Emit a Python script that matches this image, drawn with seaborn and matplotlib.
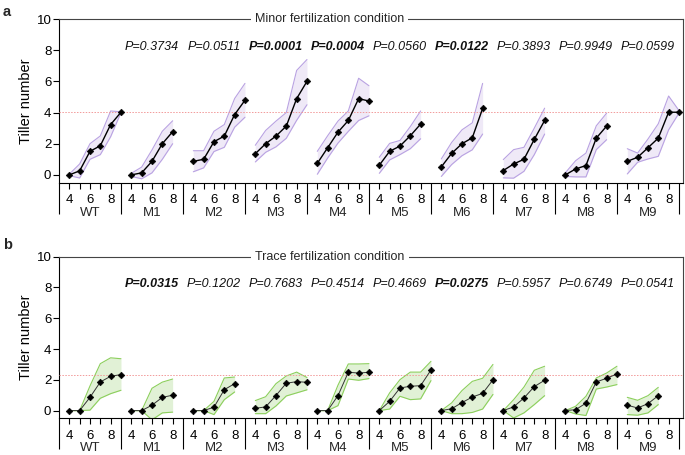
import numpy as np
import pandas as pd
import matplotlib
matplotlib.use('Agg')
import matplotlib.pyplot as plt
import seaborn as sns

# --- data ---
groups = ['WT', 'M1', 'M2', 'M3', 'M4', 'M5', 'M6', 'M7', 'M8', 'M9']
first_day = 4

# panel a: minor fertilization
minor_mean = [
    [0, 0.26, 1.51, 1.87, 3.23, 4.02],
    [0, 0.13, 0.87, 2.0, 2.77],
    [0.87, 1.0, 2.13, 2.49, 3.87, 4.79],
    [1.36, 2.0, 2.49, 3.13, 4.89, 6.0],
    [0.74, 1.74, 2.74, 3.49, 4.89, 4.74],
    [0.62, 1.51, 1.85, 2.51, 3.26],
    [0.51, 1.38, 2.0, 2.38, 4.26],
    [0.28, 0.7, 1.0, 2.28, 3.49],
    [0, 0.38, 0.6, 2.36, 3.13],
    [0.87, 1.13, 1.74, 2.36, 4.02, 4.02],
]
minor_high = [
    [0.05, 0.7, 2.0, 2.5, 4.1, 4.05],
    [0.1, 0.5, 1.6, 2.8, 3.47],
    [1.55, 1.55, 2.8, 3.23, 4.9, 5.87],
    [1.9, 2.85, 3.45, 4.0, 6.7, 7.4],
    [1.51, 2.51, 3.45, 4.1, 6.2, 5.72],
    [1.13, 2.02, 2.21, 3.1, 4.1],
    [1.02, 2.08, 2.89, 3.34, 5.87],
    [0.98, 1.62, 1.77, 3.0, 4.28],
    [0.13, 0.91, 1.4, 3.15, 3.96],
    [1.68, 1.4, 2.3, 3.28, 5.06, 4.13],
]
minor_low = [
    [-0.05, -0.2, 1.0, 1.3, 2.45, 4.0],
    [-0.1, -0.25, 0.13, 1.0, 2.0],
    [0.2, 0.45, 1.5, 1.77, 3.06, 3.7],
    [0.83, 1.45, 1.8, 2.35, 3.5, 4.5],
    [0.04, 1.08, 2.04, 2.79, 3.49, 3.79],
    [0.1, 0.96, 1.3, 1.68, 2.32],
    [-0.1, 0.66, 1.23, 1.61, 2.62],
    [-0.19, -0.21, 0.23, 1.3, 2.62],
    [-0.1, -0.13, -0.13, 1.62, 2.26],
    [0.06, 0.81, 1.02, 1.19, 2.89, 3.96],
]
minor_p = ['', 'P=0.3734', 'P=0.0511', 'P=0.0001', 'P=0.0004', 'P=0.0560',
           'P=0.0122', 'P=0.3893', 'P=0.9949', 'P=0.0599']
minor_bold = [False, False, False, True, True, False, True, False, False, False]

# panel b: trace fertilization
trace_mean = [
    [0, 0, 0.86, 1.86, 2.23, 2.34],
    [0, 0, 0.35, 0.86, 1.0],
    [0, 0, 0.22, 1.36, 1.75],
    [0.15, 0.24, 0.98, 1.78, 1.88, 1.84],
    [0, 0, 0.97, 2.49, 2.44, 2.49],
    [0, 0.6, 1.47, 1.58, 1.62, 2.64],
    [0, 0.12, 0.52, 0.88, 1.12, 2.0],
    [0, 0.24, 0.82, 1.56, 1.97],
    [0, 0.06, 0.48, 1.86, 2.1, 2.38],
    [0.35, 0.17, 0.45, 0.97],
]
trace_high = [
    [0, 0, 1.6, 3.05, 3.43, 3.37],
    [0, 0, 1.45, 1.85, 2.05],
    [0, 0, 0.6, 2.12, 2.18],
    [0.65, 0.9, 1.75, 2.25, 2.5, 2.15],
    [0, 0, 1.65, 3.03, 3.03, 3.05],
    [0, 1.15, 2.01, 2.5, 2.5, 3.2],
    [0, 0.5, 1.3, 1.9, 2.1, 3.0],
    [0, 0.71, 1.53, 2.62, 2.88],
    [0, 0.28, 0.93, 2.12, 2.44, 2.88],
    [0.86, 0.67, 0.97, 1.51],
]
trace_low = [
    [0, 0, 0.03, 0.8, 1.1, 1.32],
    [0, 0, -0.6, -0.15, -0.1],
    [0, 0, -0.26, 0.71, 1.21],
    [-0.2, -0.2, 0.3, 0.95, 1.15, 1.35],
    [0, 0, 0.32, 2.05, 1.97, 2.08],
    [0, 0.1, 0.93, 0.71, 0.76, 1.95],
    [0, -0.2, -0.2, -0.12, 0.1, 1.05],
    [0, -0.48, -0.15, 0.39, 0.97],
    [0, -0.22, -0.32, 1.4, 1.53, 1.69],
    [-0.26, -0.3, -0.15, 0.39],
]
trace_p = ['', 'P=0.0315', 'P=0.1202', 'P=0.7683', 'P=0.4514', 'P=0.4669',
           'P=0.0275', 'P=0.5957', 'P=0.6749', 'P=0.0541']
trace_bold = [False, True, False, False, False, False, True, False, False, False]

tick_days = [4, 5, 6, 7, 8]
labelled_days = [4, 6, 8]
group_span = 6  # days 3..9 per group block


def long_table(means, lows, highs):
    rows = []
    for i, g in enumerate(groups):
        for k, (m, lo, hi) in enumerate(zip(means[i], lows[i], highs[i])):
            day = first_day + k
            rows.append({'group': g, 'day': day, 'pos': group_span * i + day,
                         'tillers': m, 'low': lo, 'high': hi})
    return pd.DataFrame(rows)


sns.set_style('ticks')
plt.rcParams['font.family'] = ['Liberation Sans', 'DejaVu Sans']

fig = plt.figure(figsize=(6.85, 4.55), dpi=100)
ax_a = fig.add_axes([0.0861, 0.5985, 0.9114, 0.3597])
ax_b = fig.add_axes([0.0861, 0.0807, 0.9114, 0.3551])


def draw_panel(ax, df, fill_col, edge_col, line_col, line_w, pvals, bold, title):
    for g, d in df.groupby('group', sort=False):
        ax.fill_between(d['pos'], d['low'], d['high'], color=fill_col, lw=0, zorder=1)
        ax.plot(d['pos'], d['high'], color=edge_col, lw=0.8, zorder=2)
        ax.plot(d['pos'], d['low'], color=edge_col, lw=0.8, zorder=2)
    sns.lineplot(data=df, x='pos', y='tillers', units='group', estimator=None,
                 color=line_col, lw=line_w, marker='D', markersize=3.4,
                 markerfacecolor='black', markeredgecolor='black', mew=0.4,
                 ax=ax, zorder=4, legend=False)
    # reference line at the WT end value
    wt_end = df[df['group'] == 'WT']['tillers'].iloc[-1]
    ax.axhline(wt_end, color='#f29a9a', lw=0.7, ls=(0, (1.5, 1.5)), zorder=3)

    ax.set_xlim(3, 63.42)
    ax.set_ylim(-0.5, 10)
    ax.set_yticks([0, 2, 4, 6, 8, 10])
    ticks, labels = [], []
    for i in range(len(groups)):
        for d in tick_days:
            ticks.append(group_span * i + d)
            labels.append(str(d) if d in labelled_days else '')
    ax.set_xticks(ticks, labels)
    seps = [group_span * i + 3 for i in range(len(groups) + 1)]
    ax.set_xticks(seps, minor=True)
    ax.tick_params(axis='both', which='major', direction='out', length=4, width=0.8,
                   labelsize=9.5, color='black', labelcolor='black')
    ax.tick_params(axis='y', pad=1.5)
    ax.tick_params(axis='x', which='major', pad=4.5)
    ax.tick_params(axis='x', which='minor', direction='out', length=22, width=0.8,
                   color='black')
    ax.set_xlabel('')
    ax.set_ylabel('Tiller number', fontsize=10.5, color='black')
    ax.yaxis.set_label_coords(-0.042, 0.5)

    for s in ['left', 'bottom']:
        ax.spines[s].set_color('black')
        ax.spines[s].set_linewidth(0.8)
    for s in ['top', 'right']:
        ax.spines[s].set_color('#444444')
        ax.spines[s].set_linewidth(0.8)

    for i, g in enumerate(groups):
        ax.annotate(g, xy=(group_span * i + 6, 0), xycoords=ax.get_xaxis_transform(),
                    xytext=(0, -21.5), textcoords='offset points', ha='center',
                    va='center', fontsize=9.5, annotation_clip=False)
        if pvals[i]:
            ax.text(group_span * i + 6, 8.2, pvals[i], ha='center', va='center',
                    fontsize=9, style='italic',
                    fontweight='bold' if bold[i] else 'normal', color='#111111')

    ax.text(29.2, 1.0, title, transform=ax.get_xaxis_transform(), ha='center',
            va='center', fontsize=9, zorder=10, clip_on=False,
            bbox=dict(fc='white', ec='none', pad=3))


minor_df = long_table(minor_mean, minor_low, minor_high)
trace_df = long_table(trace_mean, trace_low, trace_high)

draw_panel(ax_a, minor_df, '#efe9f7', '#b9a2e2', 'black', 1.0,
           minor_p, minor_bold, 'Minor fertilization condition')
draw_panel(ax_b, trace_df, '#e1f1d6', '#8ccf5c', '#333333', 0.7,
           trace_p, trace_bold, 'Trace fertilization condition')

fig.text(0.004, 0.99, 'a', fontsize=10.5, fontweight='bold', va='top')
fig.text(0.004, 0.478, 'b', fontsize=10.5, fontweight='bold', va='top')

fig.savefig('out.png', dpi=100)
